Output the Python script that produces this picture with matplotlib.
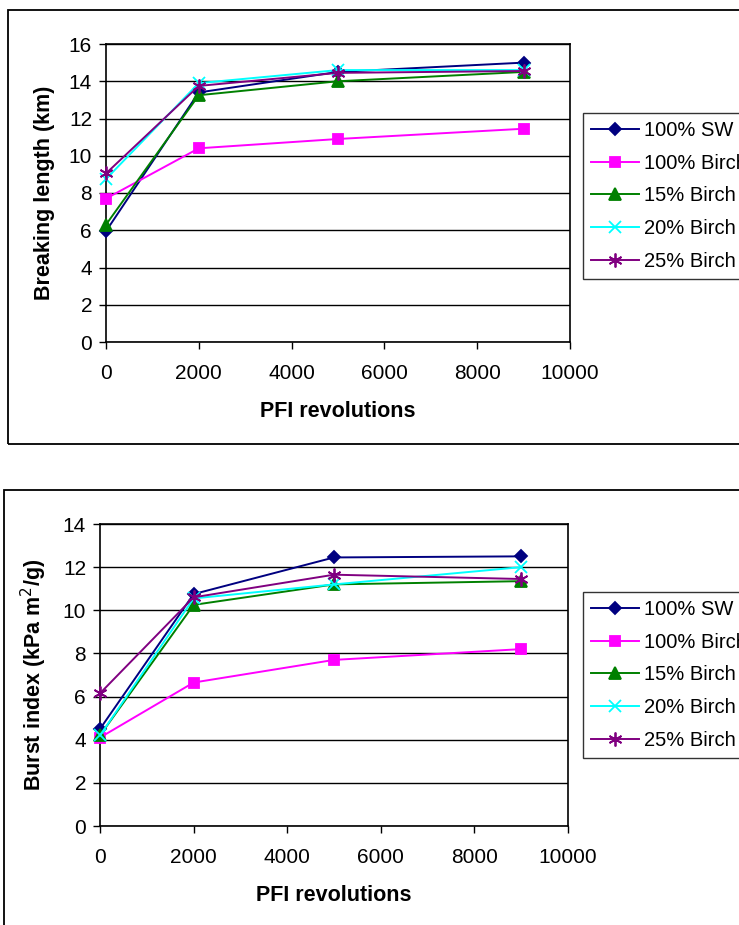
import matplotlib.pyplot as plt
from matplotlib.patches import Rectangle

plt.rcParams['font.family'] = ['Liberation Sans', 'DejaVu Sans']

# Data
revs = [0, 2000, 5000, 9000]
labels = ['100% SW', '100% Birch', '15% Birch', '20% Birch', '25% Birch']

bl_sw = [5.95, 13.4, 14.5, 15.0]
bl_birch = [7.7, 10.4, 10.9, 11.45]
bl_15 = [6.3, 13.25, 14.0, 14.5]
bl_20 = [8.75, 13.9, 14.6, 14.6]
bl_25 = [9.05, 13.75, 14.45, 14.55]

bi_sw = [4.5, 10.75, 12.45, 12.5]
bi_birch = [4.1, 6.65, 7.7, 8.2]
bi_15 = [4.2, 10.25, 11.2, 11.35]
bi_20 = [4.2, 10.55, 11.2, 12.0]
bi_25 = [6.15, 10.6, 11.65, 11.45]

colors = ['#000080', '#ff00ff', '#008000', '#00ffff', '#800080']
markers = ['D', 's', '^', 'x', (6, 2, 0)]
msizes = [6, 7, 8, 9, 10]

W, H = 739, 925
fig = plt.figure(figsize=(W / 100, H / 100), dpi=100)


def px_axes(left, top, right, bottom):
    return fig.add_axes([left / W, 1 - bottom / H, (right - left) / W, (bottom - top) / H])


def frame(left, top, right, bottom):
    fig.patches.append(Rectangle((left / W, 1 - bottom / H), (right - left) / W, (bottom - top) / H,
                                 transform=fig.transFigure, fill=False, edgecolor='black',
                                 linewidth=1.3))


frame(8, 10, 800, 444)
frame(4, 490, 800, 1000)


def draw(ax, series, ymax, ylabel, legend_top):
    for vals, c, m, ms, lab in zip(series, colors, markers, msizes, labels):
        ax.plot(revs, vals, color=c, marker=m, markersize=ms, linewidth=1.4,
                markeredgecolor=c, markerfacecolor=c, markeredgewidth=1.3, label=lab,
                clip_on=False, zorder=3)
    ax.set_xlim(0, 10000)
    ax.set_ylim(0, ymax)
    ax.set_xticks(range(0, 10001, 2000))
    ax.set_yticks(range(0, ymax + 1, 2))
    ax.yaxis.grid(True, color='black', linewidth=1)
    ax.set_axisbelow(True)
    for s in ax.spines.values():
        s.set_linewidth(1.2)
    ax.tick_params(direction='out', length=5, width=1, labelsize=15, pad=11)
    ax.tick_params(axis='y', pad=5)
    ax.set_xlabel('PFI revolutions', fontsize=15.5, fontweight='bold', labelpad=13)
    ax.set_ylabel(ylabel, fontsize=15.5, fontweight='bold', labelpad=10)
    fig.legend(*ax.get_legend_handles_labels(), loc='upper left',
               bbox_to_anchor=(583 / W, 1 - legend_top / H), fontsize=14.5,
               frameon=True, fancybox=False, edgecolor='black', borderpad=0.4,
               labelspacing=0.68, handlelength=2.4, handletextpad=0.25, borderaxespad=0)


ax1 = px_axes(106, 44, 570, 342)
draw(ax1, [bl_sw, bl_birch, bl_15, bl_20, bl_25], 16, 'Breaking length (km)', 113)

ax2 = px_axes(100, 524, 568, 826)
draw(ax2, [bi_sw, bi_birch, bi_15, bi_20, bi_25], 14, 'Burst index (kPa m$^{2}$/g)', 592)

fig.savefig('out.png', dpi=100)
